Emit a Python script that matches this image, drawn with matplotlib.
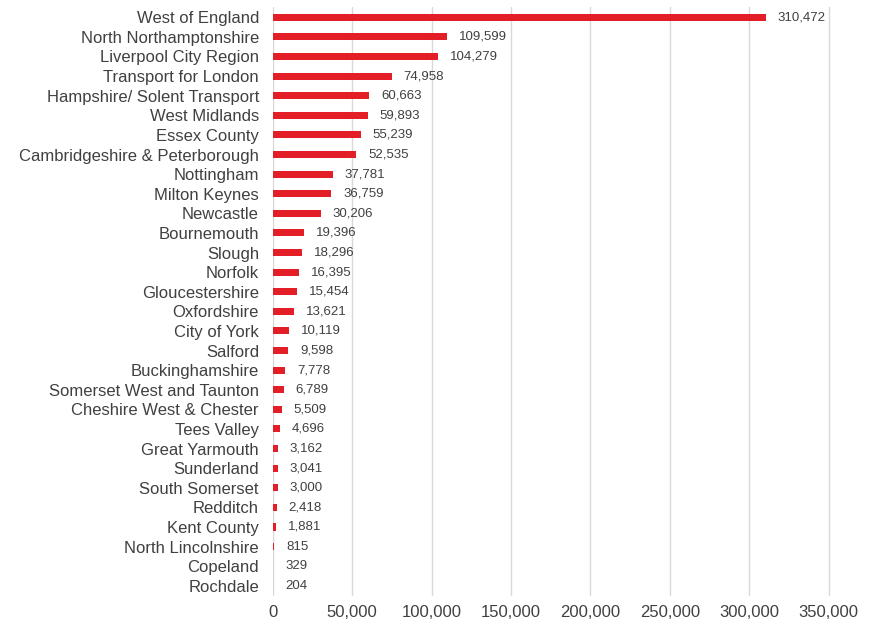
import matplotlib.pyplot as plt
import matplotlib.ticker as mticker

plt.rcParams['font.family'] = ['Liberation Sans', 'DejaVu Sans']

areas = ['West of England', 'North Northamptonshire', 'Liverpool City Region',
         'Transport for London', 'Hampshire/ Solent Transport', 'West Midlands',
         'Essex County', 'Cambridgeshire & Peterborough', 'Nottingham',
         'Milton Keynes', 'Newcastle', 'Bournemouth', 'Slough', 'Norfolk',
         'Gloucestershire', 'Oxfordshire', 'City of York', 'Salford',
         'Buckinghamshire', 'Somerset West and Taunton', 'Cheshire West & Chester',
         'Tees Valley', 'Great Yarmouth', 'Sunderland', 'South Somerset',
         'Redditch', 'Kent County', 'North Lincolnshire', 'Copeland', 'Rochdale']
counts = [310472, 109599, 104279, 74958, 60663, 59893, 55239, 52535, 37781,
          36759, 30206, 19396, 18296, 16395, 15454, 13621, 10119, 9598, 7778,
          6789, 5509, 4696, 3162, 3041, 3000, 2418, 1881, 815, 329, 204]

red = '#e41e26'
grey_text = '#404040'

fig = plt.figure(figsize=(8.69, 6.23), dpi=100)
# a little room past 350,000 so the last gridline isn't clipped
ax = fig.add_axes([0.314, 0.044, 0.645, 0.944])

pos = list(range(len(areas)))
bars = ax.barh(pos, counts, height=0.36, color=red)

# value labels just past the bar ends
for b, v in zip(bars, counts):
    ax.annotate(f'{v:,}', (b.get_width(), b.get_y() + b.get_height() / 2),
                xytext=(8.5, 0), textcoords='offset points',
                va='center', ha='left', fontsize=9.5, color=grey_text)

ax.set_yticks(pos)
ax.set_yticklabels(areas, fontsize=12, color=grey_text)
ax.set_ylim(len(areas) - 0.5, -0.5)

ax.set_xlim(0, 353000)
ax.set_xticks(range(0, 350001, 50000))
ax.xaxis.set_major_formatter(mticker.FuncFormatter(lambda x, p: f'{int(x):,}'))
ax.tick_params(axis='x', labelsize=12, labelcolor=grey_text, length=0, pad=6.5)
ax.tick_params(axis='y', length=0, pad=10)

ax.grid(axis='x', color='#d9d9d9', linewidth=1)
ax.set_axisbelow(True)
for s in ax.spines.values():
    s.set_visible(False)

fig.savefig('out.png', dpi=100)
